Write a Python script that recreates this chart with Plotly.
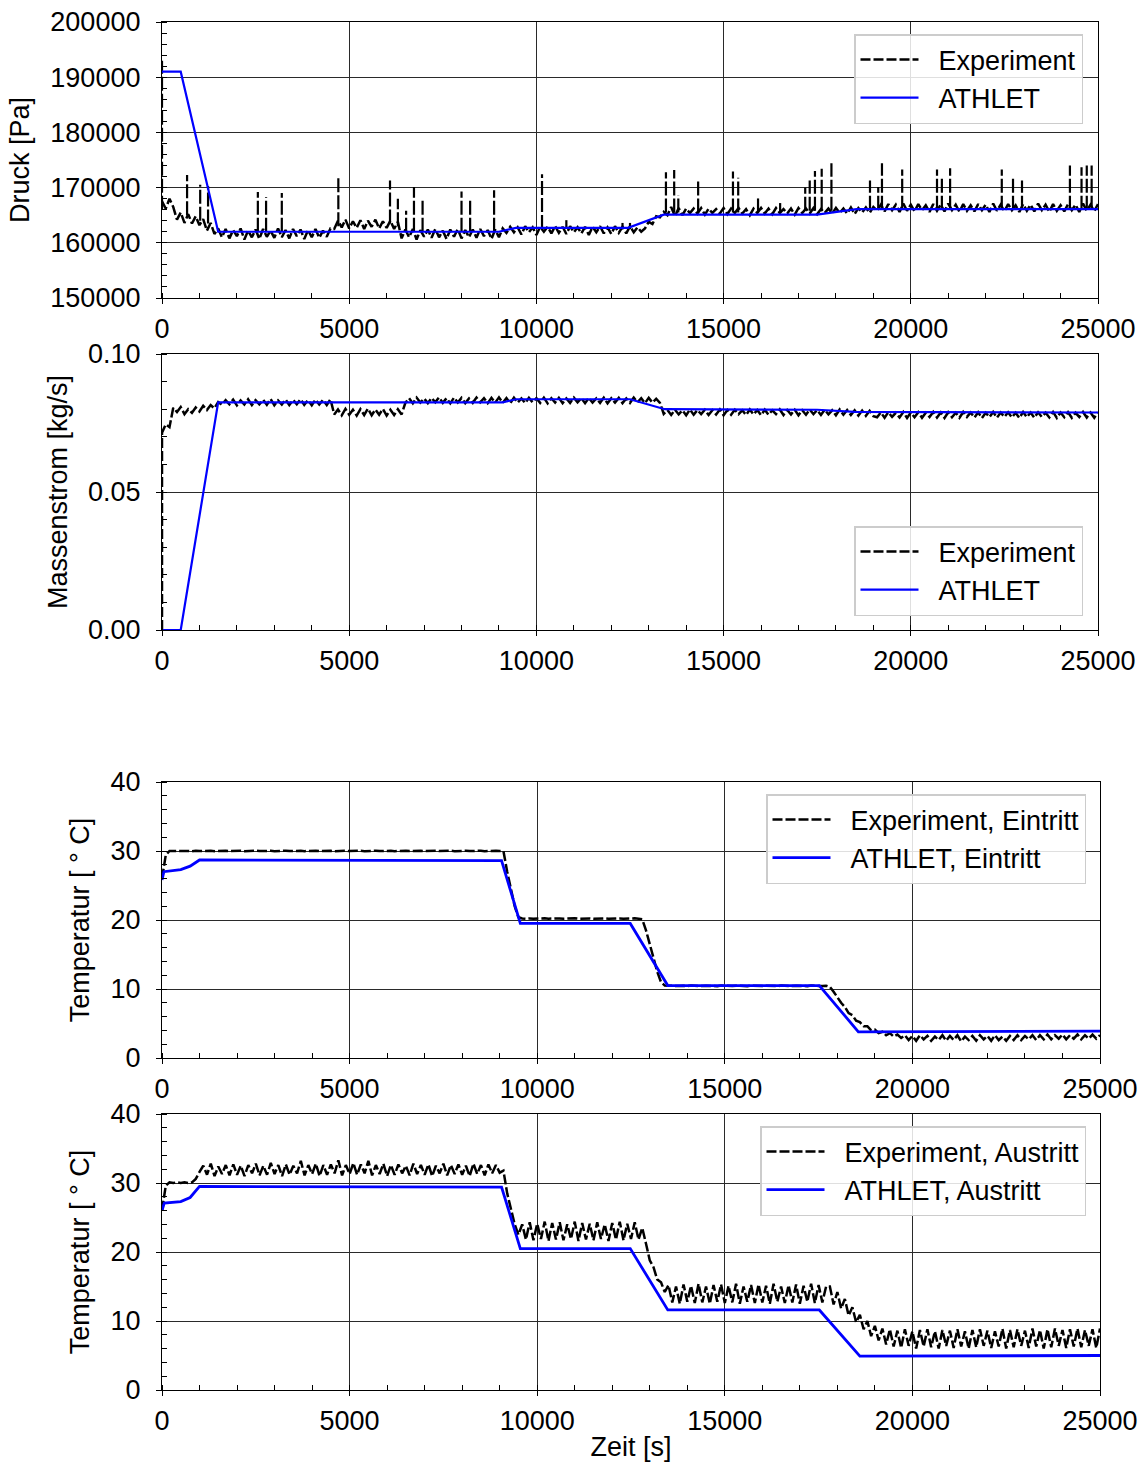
import plotly.graph_objects as go

W, H = 1146, 1472
FONT = "Liberation Sans, Arial, sans-serif"
FS = 27
GRID = "#2a2a2a"
BLUE = "#0000ff"
DASH = "10px,3px"
GAP = "\u00a0\u00a0"

# ---------------- data (sampling every 100 s) ----------------
druck_exp = [
    167500, 166200, 168000, 166500, 164200, 165500, 163600, 165200, 163500, 164800,
    163200, 164300, 162200, 163600, 161600, 162600, 161000, 162500, 160800, 162300,
    161200, 162600, 160600, 162200, 161000, 162400, 160700, 162500, 161100, 162200,
    160900, 162600, 161000, 162300, 160800, 162500, 161200, 162400, 160700, 162300,
    161000, 162500, 160900, 162200, 161100, 162600,
    162500, 164000, 162800, 164200, 162600, 163900, 162700, 164100, 162500, 164000,
    162900, 164200, 162600, 163900, 162700, 164000, 162500, 163800,
    160800, 162400, 161000, 162500, 160600, 162300, 161100, 162400, 160900, 162500,
    161000, 162200, 160700, 162400, 161100, 162500, 160800, 162300, 161000, 162400,
    160900, 162500, 161200, 162300, 160700, 162400, 161000, 162600,
    161800, 162900, 161900, 162800, 161500, 163000, 161900, 162800, 161400, 162900,
    162000, 162900, 161700, 163000, 161800, 162900, 161600, 163000, 161900, 162800,
    161700, 162900, 161400, 162900, 161900, 163000, 161700, 162800, 161600, 163000,
    161800, 162900, 161700, 163000, 161900, 162800, 162000,
    162600, 163800, 163400, 164800, 164600, 165600,
    165000, 166500, 164800, 166300, 165000, 166200,
    165400, 166200, 165300, 166300, 165100, 166200, 165400, 166100, 165300, 166300,
    165200, 166200, 165400, 166300, 165300, 166100, 165000, 166200, 165400, 166300,
    165300, 166200, 165200, 166300, 165400, 166100, 165300, 166200, 165100, 166300,
    165400, 166200, 165300, 166300, 165200, 166100, 165400, 166200, 165300, 166300,
    165400, 166200, 165300, 166400, 165200, 166300, 165500, 166400, 165400, 166500,
    165800, 166900, 165700, 167000, 165900, 166900, 165600, 167100, 165800, 166900,
    165700, 167000, 165900, 166800, 165600, 167000, 165800, 166900, 165700, 167100,
    165900, 166900, 165600, 167000, 165800, 166800, 165700, 167000, 165900, 166900,
    165600, 167100, 165800, 166900, 165700, 167000, 165900, 166800, 165600, 167000,
    165800, 166900, 165700, 167100, 165900, 166900, 165600, 167000, 165800, 166800,
    165700, 167000, 165900, 166900, 165600, 167100, 165800, 166900, 165700, 167000,
]

# short pressure peaks of the experiment: time, foot, top
spike_t = [0, 670, 1020, 1230, 2560, 2780, 3200, 4710, 6090, 6300, 6520, 6730, 6960,
           8000, 8230, 8870, 10150, 10800, 12300, 12500, 13460, 13680, 13790, 14320,
           15250, 15390, 15920, 16510, 17180, 17300, 17440, 17620, 17880, 18910, 19130,
           19230, 19770, 20700, 20830, 21050, 22430, 22730, 22970, 24250, 24560, 24700,
           24830]
spike_lo = [166000, 165000, 164000, 163500, 162000, 162000, 162000, 163000, 163500,
            163000, 162000, 162000, 162000, 162000, 162000, 162000, 162500, 162500,
            162500, 162500, 165500, 165500, 165500, 165500, 165500, 165500, 165500,
            165500, 165800, 165800, 165800, 165800, 165800, 166000, 166000, 166000,
            166000, 166000, 166000, 166000, 166000, 166000, 166000, 166000, 166000,
            166000, 166000]
spike_hi = [193000, 172300, 170500, 170300, 169200, 168300, 169000, 172000, 171300,
            168000, 165800, 170100, 167700, 169300, 167700, 169500, 172400, 164100,
            163600, 163600, 172800, 173200, 168600, 171300, 172900, 171800, 168400,
            167200, 170000, 171300, 173000, 173400, 174400, 171300, 170100, 174400,
            173300, 173300, 172100, 173500, 173300, 171700, 171300, 174000, 173700,
            174000, 174000]

druck_athlet_t = [0, 500, 1500, 9000, 9450, 12450, 13400, 17500, 18550, 25000]
druck_athlet = [191000, 191000, 162000, 162000, 162700, 162700, 165100, 165100, 166100, 166100]

mstrom_exp_start = 0.0
mstrom_exp = [
    0.0715, 0.0745, 0.0735, 0.0805, 0.0790, 0.0808, 0.0782, 0.0800, 0.0787, 0.0806,
    0.0792, 0.0812, 0.0797, 0.0815, 0.0803, 0.0826,
    0.0816, 0.0833, 0.0818, 0.0835, 0.0814, 0.0832, 0.0817, 0.0836, 0.0815, 0.0833,
    0.0818, 0.0834, 0.0816, 0.0837, 0.0814, 0.0832, 0.0817, 0.0835, 0.0815, 0.0834,
    0.0818, 0.0836, 0.0816, 0.0833, 0.0814, 0.0835, 0.0817, 0.0834, 0.0815, 0.0836,
    0.0781, 0.0799, 0.0778, 0.0801, 0.0780, 0.0798, 0.0777, 0.0800, 0.0779, 0.0802,
    0.0778, 0.0799, 0.0780, 0.0801, 0.0777, 0.0798, 0.0779, 0.0800, 0.0781,
    0.0823, 0.0840, 0.0821, 0.0842, 0.0824, 0.0839, 0.0822, 0.0841, 0.0825, 0.0843,
    0.0823, 0.0840, 0.0821, 0.0842, 0.0824, 0.0841, 0.0822, 0.0839, 0.0823, 0.0842,
    0.0825, 0.0840, 0.0822, 0.0841, 0.0824, 0.0843, 0.0823, 0.0840, 0.0821, 0.0842,
    0.0824, 0.0839, 0.0822, 0.0841, 0.0825, 0.0840, 0.0823, 0.0842, 0.0821, 0.0840,
    0.0824, 0.0841, 0.0822, 0.0839, 0.0823, 0.0842, 0.0825, 0.0840, 0.0822, 0.0841,
    0.0824, 0.0839, 0.0823, 0.0842, 0.0821, 0.0840, 0.0824, 0.0841, 0.0822, 0.0839,
    0.0823, 0.0842, 0.0825, 0.0840, 0.0822, 0.0841, 0.0824, 0.0838, 0.0823,
    0.0783, 0.0797, 0.0779, 0.0798, 0.0781, 0.0796, 0.0778, 0.0799, 0.0780, 0.0797,
    0.0782, 0.0798, 0.0779, 0.0796, 0.0781, 0.0799, 0.0778, 0.0797, 0.0780, 0.0798,
    0.0782, 0.0796, 0.0779, 0.0799, 0.0781, 0.0797, 0.0778, 0.0798, 0.0780, 0.0796,
    0.0782, 0.0799, 0.0779, 0.0797, 0.0781, 0.0798, 0.0778, 0.0796, 0.0780, 0.0799,
    0.0782, 0.0797, 0.0779, 0.0798, 0.0781, 0.0796, 0.0778, 0.0799, 0.0780, 0.0797,
    0.0779, 0.0796, 0.0777, 0.0795, 0.0776, 0.0794, 0.0775,
    0.0771, 0.0788, 0.0769, 0.0789, 0.0772, 0.0787, 0.0770, 0.0790, 0.0768, 0.0788,
    0.0771, 0.0789, 0.0769, 0.0787, 0.0772, 0.0790, 0.0770, 0.0788, 0.0768, 0.0789,
    0.0771, 0.0787, 0.0769, 0.0790, 0.0772, 0.0788, 0.0770, 0.0789, 0.0768, 0.0787,
    0.0771, 0.0790, 0.0769, 0.0788, 0.0772, 0.0789, 0.0770, 0.0787, 0.0768, 0.0790,
    0.0771, 0.0788, 0.0769, 0.0789, 0.0772, 0.0787, 0.0770, 0.0790, 0.0768, 0.0788,
    0.0771, 0.0789, 0.0769, 0.0787, 0.0772, 0.0790, 0.0770, 0.0788, 0.0769, 0.0789,
]

mstrom_athlet_t = [0, 500, 1500, 9100, 9450, 12500, 13430, 17500, 18500, 25000]
mstrom_athlet = [0.0, 0.0, 0.0825, 0.0825, 0.0836, 0.0836, 0.0800, 0.0798, 0.0790, 0.0788]

t_ein_exp = [
    26.0, 29.4, 30.0,
    30.02, 29.97, 30.03, 29.98, 30.01, 29.96, 30.04, 29.99, 30.02, 29.97,
    30.03, 29.98, 30.01, 29.96, 30.04, 29.99, 30.02, 29.97, 30.03, 29.98,
    30.01, 29.96, 30.04, 29.99, 30.02, 29.97, 30.03, 29.98, 30.01, 29.96,
    30.04, 29.99, 30.02, 29.97, 30.03, 29.98, 30.01, 29.96, 30.04, 29.99,
    30.02, 29.97, 30.03, 29.98, 30.01, 29.96, 30.04, 29.99, 30.02, 29.97,
    30.03, 29.98, 30.01, 29.96, 30.04, 29.99, 30.02, 29.97, 30.03, 29.98,
    30.01, 29.96, 30.04, 29.99, 30.02, 29.97, 30.03, 29.98, 30.01, 29.96,
    30.04, 29.99, 30.02, 29.97, 30.03, 29.98, 30.01, 29.96, 30.04, 29.99,
    30.02, 29.97, 30.03, 29.98, 30.01, 29.96, 30.04, 29.99, 30.00,
    27.0, 24.5, 22.0, 20.4,
    20.22, 20.17, 20.23, 20.18, 20.21, 20.16, 20.24, 20.19, 20.22, 20.17,
    20.23, 20.18, 20.21, 20.16, 20.24, 20.19, 20.22, 20.17, 20.23, 20.18,
    20.21, 20.16, 20.24, 20.19, 20.22, 20.17, 20.23, 20.18, 20.21, 20.16,
    20.24, 20.19,
    20.1, 18.5, 16.5, 14.5, 12.5, 11.0, 10.5,
    10.47, 10.42, 10.48, 10.43, 10.46, 10.41, 10.49, 10.44, 10.47, 10.42,
    10.48, 10.43, 10.46, 10.41, 10.49, 10.44, 10.47, 10.42, 10.48, 10.43,
    10.46, 10.41, 10.49, 10.44, 10.47, 10.42, 10.48, 10.43, 10.46, 10.41,
    10.49, 10.44, 10.47, 10.42, 10.48, 10.43, 10.46, 10.41, 10.49, 10.44,
    10.47, 10.42, 10.48,
    10.3, 9.6, 8.8, 8.0, 7.4, 6.5, 6.2, 5.4, 5.2, 4.6,
    4.6, 4.0, 4.1, 3.6, 3.8, 3.3, 3.6, 3.1, 3.4, 2.9,
    3.3, 2.6, 3.2, 2.5, 3.3, 2.7, 3.2, 2.5, 3.1, 2.6,
    3.3, 2.5, 3.2, 2.6, 3.3, 2.4, 3.1, 2.6, 3.2, 2.5,
    3.3, 2.7, 3.2, 2.5, 3.3, 2.6, 3.1, 2.5, 3.2, 2.6,
    3.3, 2.6, 3.2, 2.7, 3.3, 2.6, 3.3, 2.7, 3.4, 2.7,
    3.3, 2.8, 3.4, 2.7, 3.3, 2.8, 3.4, 2.7, 3.3, 2.8,
    3.4, 2.8, 3.3,
]

t_ein_athlet_t = [0, 50, 500, 750, 1000, 9050, 9550, 12480, 13480, 17520, 18560, 25000]
t_ein_athlet = [25.8, 27.0, 27.3, 27.8, 28.7, 28.6, 19.5, 19.5, 10.5, 10.5, 3.8, 3.9]

t_aus_exp = [
    26.0, 29.6, 30.1, 30.0, 30.1, 30.0, 30.1, 30.0, 30.1, 30.6,
    31.6, 32.5, 31.2, 32.8, 31.0, 32.4, 31.3, 32.6, 31.1, 32.7,
    31.2, 32.5, 31.0, 32.6, 31.4, 32.8, 31.1, 32.5, 31.2, 32.9,
    31.3, 32.6, 31.0, 32.7, 31.2, 32.5, 31.4, 33.2, 31.1, 32.6,
    31.3, 32.8, 31.0, 32.6, 31.2, 32.7, 31.4, 33.3, 31.1, 32.6,
    31.3, 32.9, 31.2, 32.7, 31.4, 33.2, 31.1, 32.6, 31.3, 32.8,
    31.0, 32.6, 31.2, 32.7, 31.4, 32.5, 31.1, 32.8, 31.3, 32.6,
    31.2, 32.7, 31.0, 32.5, 31.4, 32.8, 31.1, 32.6, 31.3, 32.7,
    31.2, 32.5, 31.0, 32.8, 31.3, 32.6, 31.1, 32.7, 31.4, 32.6,
    31.5,
    31.8, 28.5, 26.0, 24.0, 22.5,
    24.0, 21.8, 24.3, 21.7, 24.1, 21.9, 24.4, 21.6, 24.2, 21.8,
    24.3, 21.7, 24.0, 21.9, 24.4, 21.6, 24.2, 21.8, 24.1, 21.7,
    24.3, 21.9, 24.0, 21.6, 24.2, 21.8, 24.4, 21.7, 24.1, 21.9,
    24.3, 21.8,
    23.5, 21.2, 18.8, 17.8, 16.0, 15.6, 14.2,
    15.2, 12.7, 15.0, 12.5, 15.3, 12.8, 15.1, 12.6, 15.4, 12.7,
    15.0, 12.5, 15.2, 12.8, 15.3, 12.6, 15.1, 12.7, 15.4, 12.5,
    15.0, 12.8, 15.2, 12.6, 15.3, 12.7, 15.1, 12.5, 15.4, 12.8,
    15.0, 12.6, 15.2, 12.7, 15.3, 12.5, 15.1, 12.8, 15.4, 12.6,
    15.2, 12.7, 15.0,
    15.0, 12.4, 14.2, 11.8, 13.2, 10.8, 12.0, 9.8, 10.9, 8.8,
    10.0, 7.8, 9.3, 7.2, 8.9,
    6.6, 8.8, 6.3, 8.6, 6.1, 8.8, 6.4, 8.5, 6.0, 8.7,
    6.3, 8.8, 6.2, 8.5, 6.0, 8.7, 6.4, 8.6, 6.1, 8.8,
    6.3, 8.5, 6.0, 8.7, 6.2, 8.8, 6.4, 8.6, 6.1, 8.5,
    6.3, 8.9, 6.0, 8.7, 6.2, 8.8, 6.4, 8.6, 6.1, 8.9,
    6.3, 8.7, 6.0, 8.8, 6.2, 8.9, 6.4, 8.7, 6.1, 8.8,
    6.3, 8.9, 6.2, 8.7, 6.4, 8.8, 6.1, 8.9,
]

t_aus_athlet_t = [0, 60, 500, 750, 1000, 9050, 9550, 12480, 13480, 17520, 18600, 25000]
t_aus_athlet = [26.0, 27.1, 27.3, 27.9, 29.5, 29.4, 20.5, 20.5, 11.6, 11.6, 4.9, 5.0]

x_ticks = [0, 5000, 10000, 15000, 20000, 25000]


def times(vals):
    return [100 * i for i in range(len(vals))]


fig = go.Figure()
exp_line = dict(color="black", width=2.5, dash=DASH)
spike_line = dict(color="black", width=2.2, dash="14px,3px")
ath_line = dict(color=BLUE, width=2.2)
ath_line_t = dict(color=BLUE, width=2.8)

# --- Druck ---
fig.add_trace(go.Scatter(x=times(druck_exp), y=druck_exp, mode="lines", line=exp_line,
                         name=GAP + "Experiment", xaxis="x", yaxis="y", legend="legend"))
sx, sy = [], []
for t, lo, hi in zip(spike_t, spike_lo, spike_hi):
    sx += [t, t, None]
    sy += [lo, hi, None]
fig.add_trace(go.Scatter(x=sx, y=sy, mode="lines", line=spike_line, showlegend=False,
                         xaxis="x", yaxis="y"))
fig.add_trace(go.Scatter(x=druck_athlet_t, y=druck_athlet, mode="lines", line=ath_line,
                         name=GAP + "ATHLET", xaxis="x", yaxis="y", legend="legend"))

# --- Massenstrom ---
fig.add_trace(go.Scatter(x=[0] + times(mstrom_exp), y=[mstrom_exp_start] + mstrom_exp,
                         mode="lines", line=exp_line, name=GAP + "Experiment",
                         xaxis="x2", yaxis="y2", legend="legend2"))
fig.add_trace(go.Scatter(x=mstrom_athlet_t, y=mstrom_athlet, mode="lines", line=ath_line,
                         name=GAP + "ATHLET", xaxis="x2", yaxis="y2", legend="legend2"))

# --- Temperatur Eintritt ---
fig.add_trace(go.Scatter(x=times(t_ein_exp), y=t_ein_exp, mode="lines", line=exp_line,
                         name=GAP + "Experiment, Eintritt", xaxis="x3", yaxis="y3", legend="legend3"))
fig.add_trace(go.Scatter(x=t_ein_athlet_t, y=t_ein_athlet, mode="lines", line=ath_line_t,
                         name=GAP + "ATHLET, Eintritt", xaxis="x3", yaxis="y3", legend="legend3"))

# --- Temperatur Austritt ---
fig.add_trace(go.Scatter(x=times(t_aus_exp), y=t_aus_exp, mode="lines", line=exp_line,
                         name=GAP + "Experiment, Austritt", xaxis="x4", yaxis="y4", legend="legend4"))
fig.add_trace(go.Scatter(x=t_aus_athlet_t, y=t_aus_athlet, mode="lines", line=ath_line_t,
                         name=GAP + "ATHLET, Austritt", xaxis="x4", yaxis="y4", legend="legend4"))


def px_x(a, b):
    return [a / W, b / W]


def px_y(top, bottom):
    return [1 - bottom / H, 1 - top / H]


common = dict(showgrid=True, gridcolor=GRID, gridwidth=1, showline=True, linecolor="black",
              linewidth=1.3, mirror=True, ticks="outside", ticklen=5, tickcolor="black",
              tickwidth=1.3, tickfont=dict(size=FS, color="black"), zeroline=False,
              automargin=False)


def xaxis(dom, anchor, title=None):
    d = dict(common, domain=dom, anchor=anchor, range=[0, 25000], tickvals=x_ticks,
             tickformat="d", ticklabelstandoff=1,
             minor=dict(dtick=1000, tick0=0, ticks="inside", ticklen=5, tickcolor="black",
                        showgrid=False))
    if title:
        d["title"] = dict(text=title, font=dict(size=FS, color="black"), standoff=2)
    return d


def yaxis(dom, anchor, rng, dtick, minor, fmt, title):
    return dict(common, domain=dom, anchor=anchor, range=rng, dtick=dtick, tick0=rng[0],
                tickformat=fmt, ticklabelstandoff=10,
                minor=dict(dtick=minor, tick0=rng[0], ticks="inside", ticklen=5,
                           tickcolor="black", showgrid=False),
                title=dict(text=title, font=dict(size=FS, color="black"), standoff=12))


legend_common = dict(font=dict(size=FS, color="black", family=FONT), bgcolor="rgba(255,255,255,0.85)",
                     bordercolor="#cccccc", borderwidth=1.5, xanchor="right", yanchor="top",
                     itemwidth=58, tracegroupgap=0)

fig.update_layout(
    width=W, height=H, margin=dict(l=0, r=0, t=0, b=0, autoexpand=False),
    paper_bgcolor="white", plot_bgcolor="white",
    font=dict(family=FONT, size=FS, color="black"),
    xaxis=xaxis(px_x(162, 1098), "y"),
    yaxis=yaxis(px_y(22, 298), "x", [150000, 200000], 10000, 2000, "d", "Druck [Pa]"),
    xaxis2=xaxis(px_x(162, 1098), "y2"),
    yaxis2=yaxis(px_y(354, 630), "x2", [0, 0.1], 0.05, 0.01, ".2f", "Massenstrom [kg/s]"),
    xaxis3=xaxis(px_x(162, 1100), "y3"),
    yaxis3=yaxis(px_y(782, 1058), "x3", [0, 40], 10, 2, "d", "Temperatur [ ° C]"),
    xaxis4=xaxis(px_x(162, 1100), "y4", "Zeit [s]"),
    yaxis4=yaxis(px_y(1114, 1390), "x4", [0, 40], 10, 2, "d", "Temperatur [ ° C]"),
    legend=dict(legend_common, x=1083 / W, y=1 - 34 / H),
    legend2=dict(legend_common, x=1083 / W, y=1 - 526 / H),
    legend3=dict(legend_common, x=1086 / W, y=1 - 794 / H),
    legend4=dict(legend_common, x=1086 / W, y=1 - 1126 / H),
    showlegend=True,
)

fig.write_html("out.html")
